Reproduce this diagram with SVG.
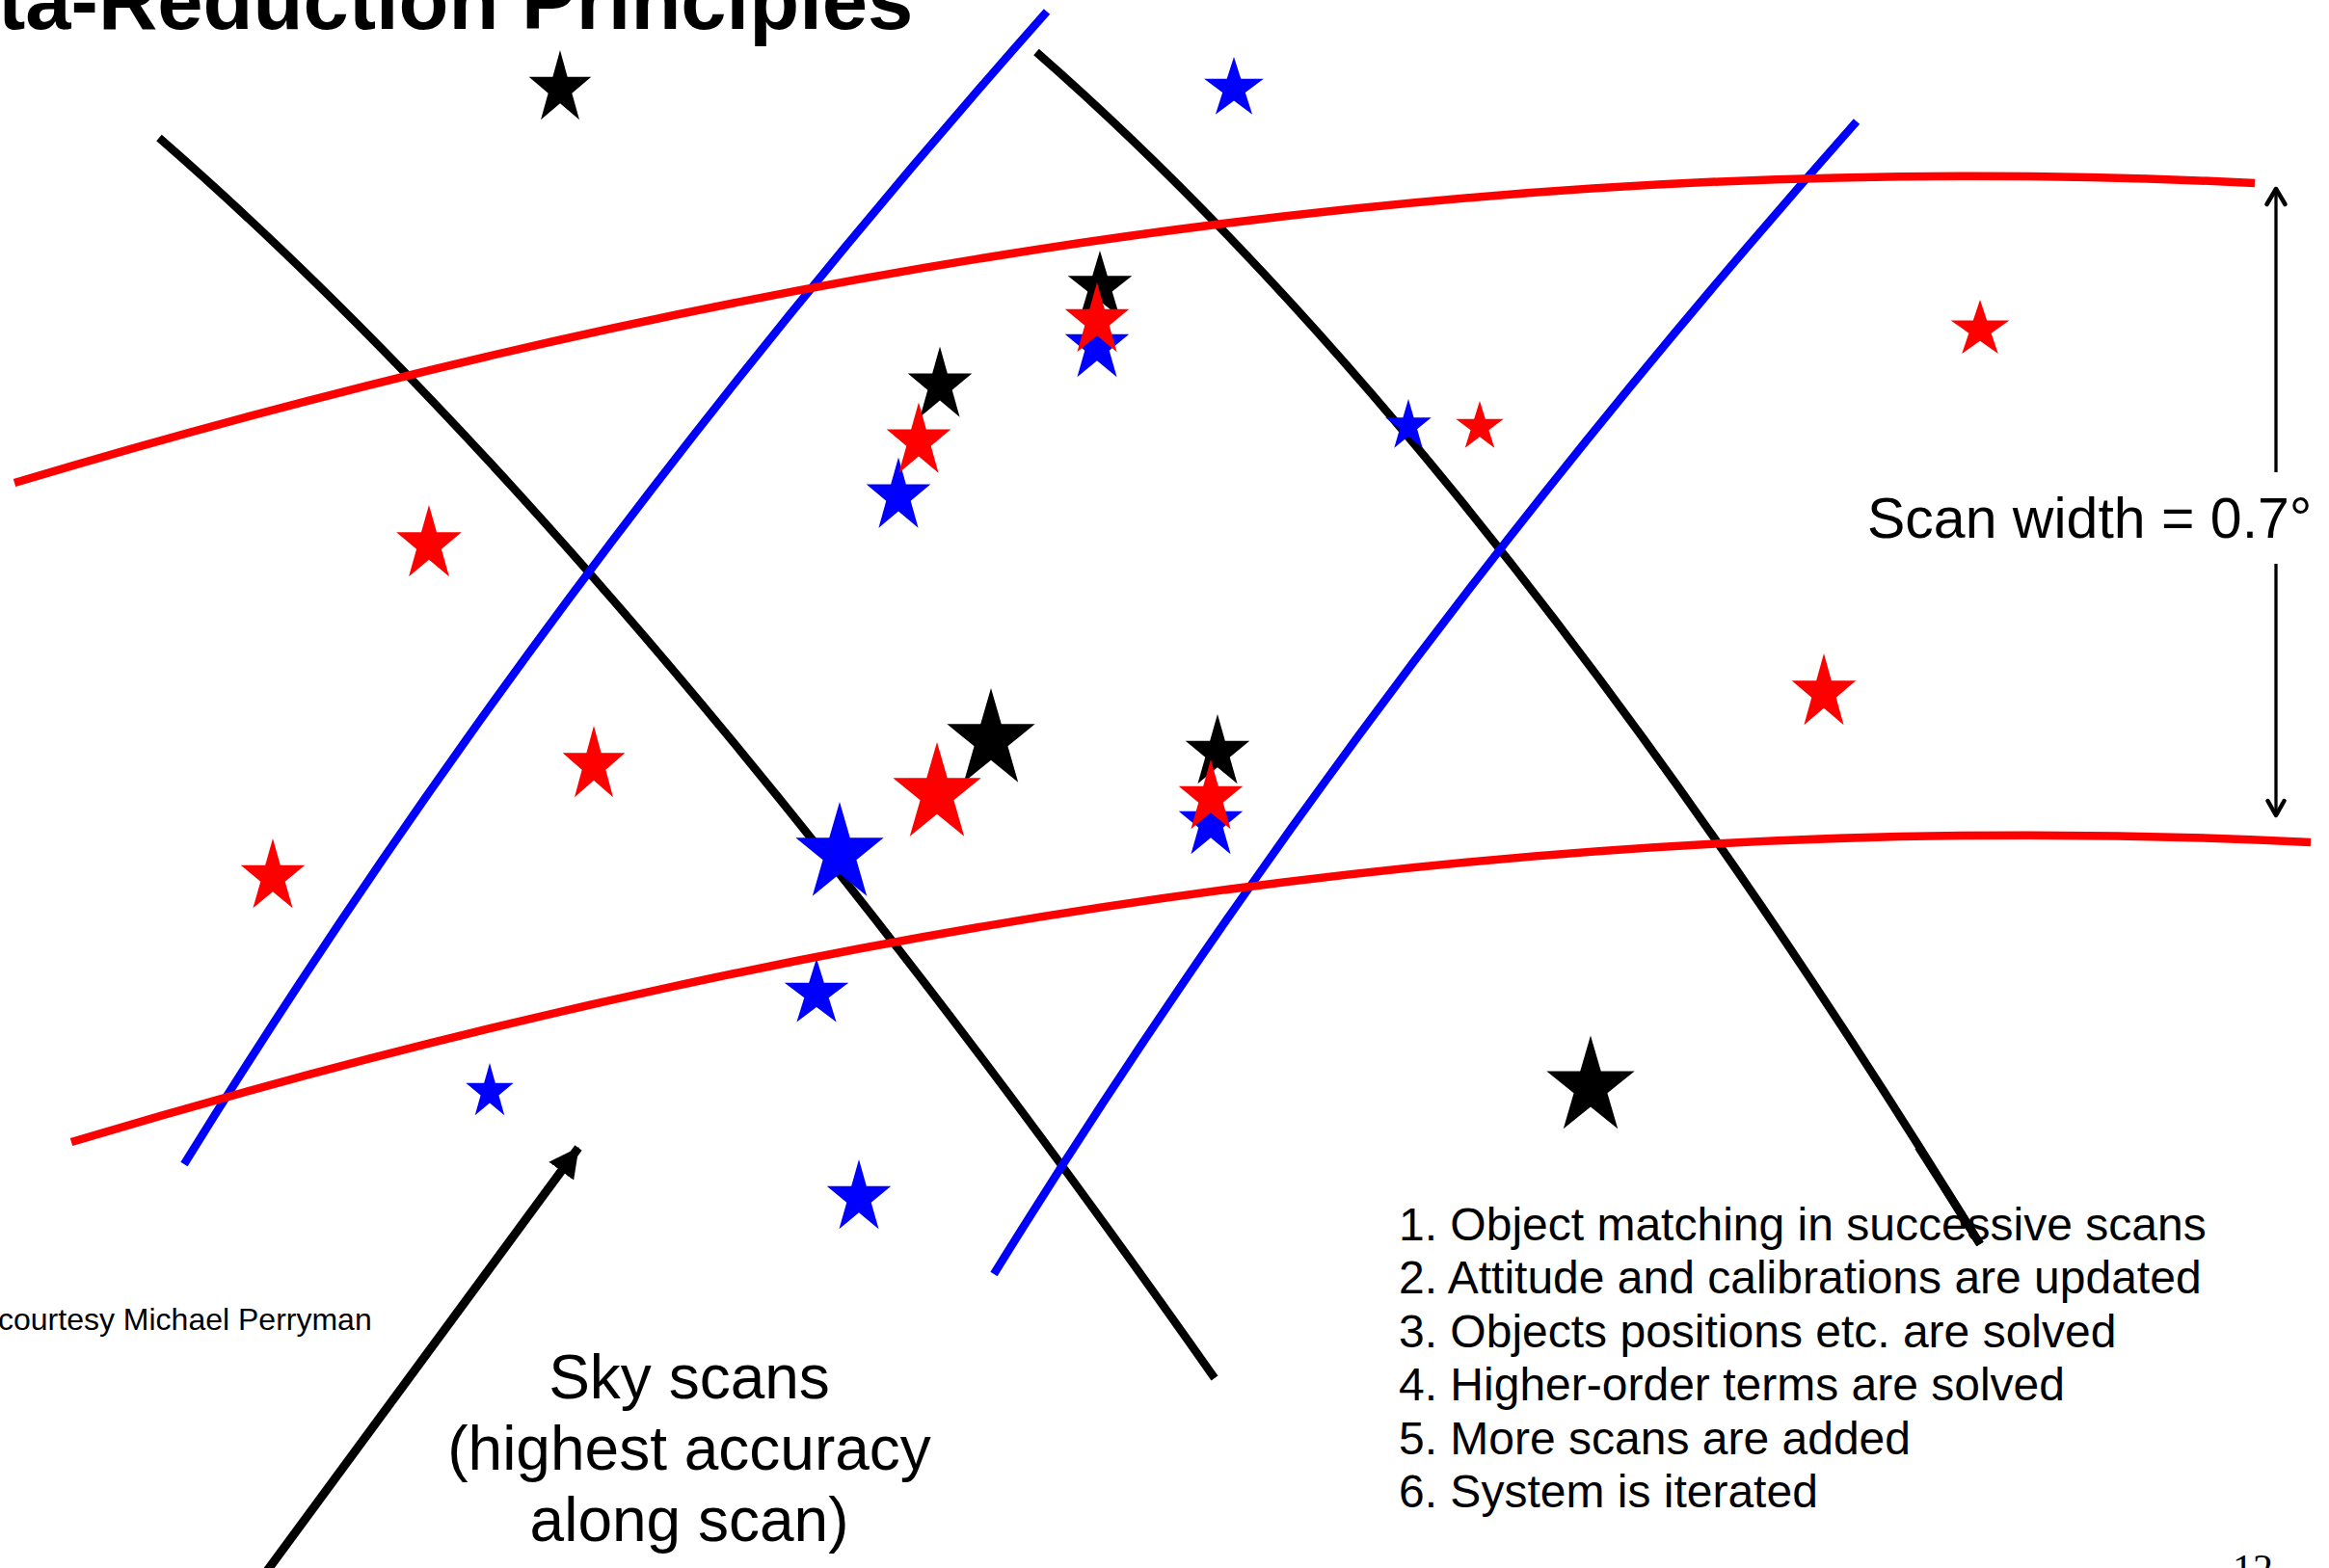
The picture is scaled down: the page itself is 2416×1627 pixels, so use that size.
<svg xmlns="http://www.w3.org/2000/svg" xmlns:xlink="http://www.w3.org/1999/xlink" width="2416" height="1627" viewBox="0 0 2416 1627">
<style>
text{font-family:"Liberation Sans",Arial,sans-serif;fill:#000}
.scan{fill:none;stroke-width:8.5;stroke-linecap:butt}
.red{stroke:#ff0000}.blue{stroke:#0000ff}.black{stroke:#000}
.sr{fill:#ff0000}.sb{fill:#0000ff}.sk{fill:#000}
.list{font-size:48px}
.sky{font-size:64px;text-anchor:middle}
.dim{stroke:#000;stroke-width:3.3;fill:none}
.chev{stroke:#000;stroke-width:4.5;fill:none;stroke-linejoin:round;stroke-linecap:round}
</style>
<defs>
<path id="star" d="M0,-100 L22.45,-30.9 L95.11,-30.9 L36.33,11.8 L58.78,80.9 L0,38.2 L-58.78,80.9 L-36.33,11.8 L-95.11,-30.9 L-22.45,-30.9 Z"/>
<marker id="solid" viewBox="0 0 31 32" refX="30" refY="16" markerWidth="31" markerHeight="32" markerUnits="userSpaceOnUse" orient="auto">
<path d="M0,0 L31,16 L0,32 Z" fill="#000"/>
</marker>
</defs>
<rect width="2416" height="1627" fill="#fff"/>
<text id="title" x="-2" y="30" font-size="85" font-weight="bold">ta-Reduction Principles</text>
<g id="connectors">
<path id="black1" class="scan black" d="M165,143 Q655,570 1260,1430"/>
<path id="black2" class="scan black" d="M1075,54 Q1548,468 2054,1291"/>
<path id="blue1" class="scan blue" d="M1086,12 Q572,592 191,1208"/>
<path id="blue2" class="scan blue" d="M1926,126 Q1412,706 1031,1322"/>
<line id="sky-arrow" x1="277" y1="1630" x2="600" y2="1191" stroke="#000" stroke-width="9" marker-end="url(#solid)"/>
<g id="scan-width-arrow">
<line class="dim" x1="2361" y1="490" x2="2361" y2="197"/>
<path class="chev" d="M2351.5,212 L2361,196 L2370.5,212"/>
<line class="dim" x1="2361" y1="585" x2="2361" y2="844"/>
<path class="chev" d="M2352.5,831 L2361,846 L2369.5,831"/>
</g>
</g>
<g id="stars">
<g id="cluster1">
<use xlink:href="#star" class="sk" transform="translate(1141,298) scale(0.35,0.38)"/>
<use xlink:href="#star" class="sb" transform="translate(1138,359) scale(0.35,0.40)"/>
<use xlink:href="#star" class="sr" transform="translate(1138,333) scale(0.35,0.40)"/>
</g>
<g id="cluster2">
<use xlink:href="#star" class="sk" transform="translate(975,400) scale(0.35,0.405)"/>
<use xlink:href="#star" class="sb" transform="translate(932,515) scale(0.35,0.405)"/>
<use xlink:href="#star" class="sr" transform="translate(953,458) scale(0.35,0.405)"/>
</g>
<g id="cluster3">
<use xlink:href="#star" class="sk" transform="translate(1263,781) scale(0.35,0.40)"/>
<use xlink:href="#star" class="sb" transform="translate(1256,854) scale(0.35,0.40)"/>
<use xlink:href="#star" class="sr" transform="translate(1256,828) scale(0.35,0.40)"/>
</g>
<g id="cluster4">
<use xlink:href="#star" class="sk" transform="translate(1028,768) scale(0.48,0.54)"/>
<use xlink:href="#star" class="sb" transform="translate(871,886) scale(0.48,0.54)"/>
<use xlink:href="#star" class="sr" transform="translate(972,824) scale(0.48,0.54)"/>
</g>
<use id="star-k1" xlink:href="#star" class="sk" transform="translate(581,92) scale(0.34,0.40)"/>
<use id="star-b1" xlink:href="#star" class="sb" transform="translate(1280,92) scale(0.325,0.33)"/>
<use id="star-r1" xlink:href="#star" class="sr" transform="translate(445,565) scale(0.356,0.41)"/>
<use id="star-b2" xlink:href="#star" class="sb" transform="translate(1461,442) scale(0.25,0.28)"/>
<use id="star-r2" xlink:href="#star" class="sr" transform="translate(1535,443) scale(0.26,0.27)"/>
<use id="star-r3" xlink:href="#star" class="sr" transform="translate(2054,342) scale(0.32,0.31)"/>
<use id="star-r4" xlink:href="#star" class="sr" transform="translate(1892,719) scale(0.35,0.41)"/>
<use id="star-r5" xlink:href="#star" class="sr" transform="translate(616,794) scale(0.34,0.41)"/>
<use id="star-r6" xlink:href="#star" class="sr" transform="translate(283,910) scale(0.35,0.40)"/>
<use id="star-b3" xlink:href="#star" class="sb" transform="translate(847,1031) scale(0.35,0.366)"/>
<use id="star-b4" xlink:href="#star" class="sb" transform="translate(508,1133) scale(0.26,0.30)"/>
<use id="star-b5" xlink:href="#star" class="sb" transform="translate(891,1243) scale(0.35,0.40)"/>
<use id="star-k2" xlink:href="#star" class="sk" transform="translate(1650,1128) scale(0.48,0.536)"/>
</g>
<g id="red-scans">
<path id="red1" class="scan red" d="M15,501 C786,270 1569,151 2339,190"/>
<path id="red2" class="scan red" d="M74,1185 C844,954 1627,835 2397,874"/>
</g>
<text id="scan-width-label" x="1937" y="558" font-size="59">Scan width = 0.7°</text>
<text id="credit" x="-2" y="1380" font-size="32">courtesy Michael Perryman</text>
<g id="sky-label">
<text class="sky" x="715" y="1451">Sky scans</text>
<text class="sky" x="715" y="1525">(highest accuracy</text>
<text class="sky" x="715" y="1599">along scan)</text>
</g>
<g id="steps">
<text class="list" x="1451" y="1287">1. Object matching in successive scans</text>
<text class="list" x="1451" y="1342">2. Attitude and calibrations are updated</text>
<text class="list" x="1451" y="1398">3. Objects positions etc. are solved</text>
<text class="list" x="1451" y="1453">4. Higher-order terms are solved</text>
<text class="list" x="1451" y="1509">5. More scans are added</text>
<text class="list" x="1451" y="1564">6. System is iterated</text>
</g>
<path id="black2-end" class="scan black" d="M1990,1190 Q2022,1240 2054,1291"/>
<text id="page-number" x="2316" y="1642" font-size="42" style="font-family:'Liberation Serif','Times New Roman',serif">12</text>
</svg>
